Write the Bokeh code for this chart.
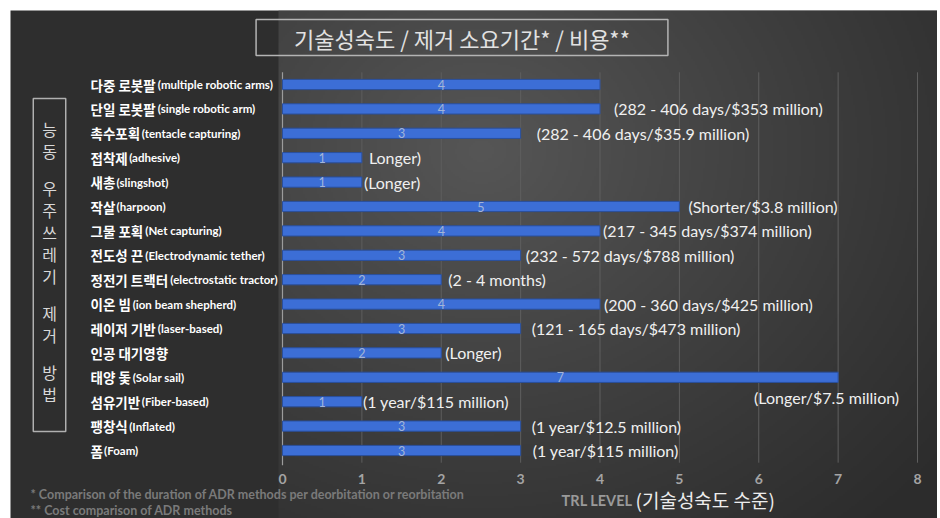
import numpy as np
from bokeh.plotting import figure
from bokeh.models import ColumnDataSource, Label, LabelSet, Range1d
from bokeh.core.properties import value
from bokeh.embed import file_html
from bokeh.resources import INLINE

# ---------------- data ----------------
methods_ko = ["다중 로봇팔", "단일 로봇팔", "촉수포획", "접착제", "새총", "작살", "그물 포획",
              "전도성 끈", "정전기 트랙터", "이온 빔", "레이저 기반", "인공 대기영향",
              "태양 돛", "섬유기반", "팽창식", "폼"]
methods_en = ["(multiple robotic arms)", "(single robotic arm)", "(tentacle capturing)",
              "(adhesive)", "(slingshot)", "(harpoon)", "(Net capturing)",
              "(Electrodynamic tether)", "(electrostatic tractor)", "(ion beam shepherd)",
              "(laser-based)", "", "(Solar sail)", "(Fiber-based)", "(Inflated)", "(Foam)"]
trl_level = [4, 4, 3, 1, 1, 5, 4, 3, 2, 4, 3, 2, 7, 1, 3, 3]
notes = ["", "(282 - 406 days/$353 million)", "(282 - 406 days/$35.9 million)", "Longer)",
         "(Longer)", "(Shorter/$3.8 million)", "(217 - 345 days/$374 million)",
         "(232 - 572 days/$788 million)", "(2 - 4 months)", "(200 - 360 days/$425 million)",
         "(121 - 165 days/$473 million)", "(Longer)", "(Longer/$7.5 million)",
         "(1 year/$115 million)", "(1 year/$12.5 million)", "(1 year/$115 million)"]
x_ticks = [0, 1, 2, 3, 4, 5, 6, 7, 8]
title_text = "기술성숙도 / 제거 소요기간* / 비용**"
side_title = "능동 우주쓰레기 제거 방법"
x_label_en = "TRL LEVEL"
x_label_ko = "(기술성숙도 수준)"
footnotes = ["* Comparison of the duration of ADR methods per deorbitation or reorbitation",
             "** Cost comparison of ADR methods"]

# ---------------- layout / style (window pixels) ----------------
FIG_L, FIG_T, FIG_R, FIG_B = 10, 10, 937, 518
PANEL_L = 278
X0_PX, X8_PX = 282, 917
ROW0_PX, ROW_PX = 84, 24.4
note_dx = [0, 14, 16, 7, 2, 9, 3, 5, 7, 4, 11, 4, 0, 1, 11, 12]
KO_SIZE = 13.5
EN_SIZE = 11.5
NOTE_FONT = "16px"

ppu = (X8_PX - X0_PX) / (x_ticks[-1] - x_ticks[0])


def X(px):
    return (px - X0_PX) / ppu


def Y(py):
    return (ROW0_PX - py) / ROW_PX


n = len(methods_ko)
rows = [-float(i) for i in range(n)]


def ko_width(s, size):
    return sum(size * (0.26 if ch == " " else 0.93) for ch in s)


p = figure(width=FIG_R - FIG_L, height=FIG_B - FIG_T, output_backend="svg",
           toolbar_location=None,
           x_range=Range1d(X(FIG_L), X(FIG_R)), y_range=Range1d(Y(FIG_B), Y(FIG_T)),
           x_axis_location=None, y_axis_location=None,
           min_border_left=0, min_border_right=0, min_border_top=0, min_border_bottom=0,
           border_fill_color="#2e2e2e", background_fill_color="#2e2e2e",
           outline_line_color=None)
p.margin = (FIG_T, 0, 0, FIG_L)
p.xgrid.visible = False
p.ygrid.visible = False

# background gradient of the chart panel
GW, GH = 330, 254
gx, gy = np.meshgrid(np.linspace(PANEL_L, FIG_R, GW), np.linspace(FIG_B, FIG_T, GH))
d = np.sqrt((gx - 480.0) ** 2 + ((gy - 150.0) / 0.85) ** 2)
t = np.clip(1 - d / 600.0, 0, 1)
c = (44 + (86 - 44) * t ** 1.1).astype(np.uint32)
img = (np.uint32(255) << np.uint32(24)) | (c << np.uint32(16)) | (c << np.uint32(8)) | c
p.image_rgba(image=[img], x=X(PANEL_L), y=Y(FIG_B),
             dw=X(FIG_R) - X(PANEL_L), dh=Y(FIG_T) - Y(FIG_B))

# grid lines
grid_top, grid_bot = 0.5, -(n - 1) - 0.5
p.segment(x0=x_ticks[1:], y0=grid_bot, x1=x_ticks[1:], y1=grid_top,
          line_color="#5e5e5e", line_width=1)
p.segment(x0=x_ticks[:1], y0=grid_bot - 0.1, x1=x_ticks[:1], y1=grid_top,
          line_color="#9c9c9c", line_width=1.2)

# x tick labels (drawn on the x scale)
p.text(x=x_ticks, y=[Y(478)] * len(x_ticks), text=[str(v) for v in x_ticks],
       text_align="center", text_baseline="middle", text_color="#a4a4a4",
       text_font=value("Lato"), text_font_style="bold", text_font_size="14px")

src = ColumnDataSource(dict(
    y=rows, trl=trl_level, mid=[v / 2 for v in trl_level],
    trl_txt=[str(v) for v in trl_level],
    ko=methods_ko, en=methods_en,
    en_dx=[ko_width(s, KO_SIZE) + 1 for s in methods_ko],
    note=[s if i != 12 else "" for i, s in enumerate(notes)],
    dx=note_dx,
))

# bars
p.hbar(y='y', left=0, right='trl', height=0.42, source=src,
       fill_color="#3c6ed6", line_color="#2a4f9c", line_width=1)

p.add_layout(LabelSet(x='mid', y='y', text='trl_txt', source=src, text_align='center',
                      text_baseline='middle', text_color='#a3b5d8', text_font=value('Lato'),
                      text_font_size='12.5px'))

p.add_layout(LabelSet(x='trl', y='y', text='note', x_offset='dx', source=src,
                      text_align='left', text_baseline='middle', text_color='#f0f0f0',
                      text_font=value('Lato'), text_font_size=NOTE_FONT))

# solar sail note placed under its bar
p.add_layout(Label(x=trl_level[12], y=rows[12] - 20 / ROW_PX, x_offset=61, text=notes[12],
                   text_align='right', text_baseline='middle', text_color='#f0f0f0',
                   text_font='Lato', text_font_size=NOTE_FONT))

# row labels
p.add_layout(LabelSet(x=X(90), y='y', text='ko', source=src, text_align='left',
                      text_baseline='middle', text_color='#ffffff',
                      text_font=value('Noto Sans CJK KR'), text_font_style='bold',
                      text_font_size=f'{KO_SIZE}px'))
p.add_layout(LabelSet(x=X(90), y='y', text='en', x_offset='en_dx', source=src,
                      text_align='left', text_baseline='middle', text_color='#ffffff',
                      text_font=value('Lato'), text_font_style='bold',
                      text_font_size=f'{EN_SIZE}px'))

# x axis title
p.add_layout(Label(x=X(632), y=Y(500), text=x_label_en, text_align='right',
                   text_baseline='middle', text_color='#9a9a9a', text_font='Lato',
                   text_font_style='bold', text_font_size='14.5px'))
p.add_layout(Label(x=X(635), y=Y(499), text=x_label_ko, text_align='left',
                   text_baseline='middle', text_color='#ececec',
                   text_font='Noto Sans CJK KR', text_font_size='19px'))

# title box  (padding: left, right, top, bottom)
p.add_layout(Label(x=X(461.5), y=Y(37), text=title_text, text_align='center',
                   text_baseline='middle', text_color='#e2e2e2',
                   text_font='Noto Sans CJK KR', text_font_size='22px',
                   border_line_color='#b4b4b4', border_line_width=1.5,
                   padding=(38, 38, 2, 2)))

# side vertical title
sy = 128.0
for ch in side_title:
    if ch == " ":
        sy += 15
        continue
    p.add_layout(Label(x=X(49), y=Y(sy), text=ch, text_align='center', text_baseline='middle',
                       text_color='#d8d8d8', text_font='Noto Sans CJK KR',
                       text_font_size='16px'))
    sy += 22
p.add_layout(Label(x=X(49), y=Y(264.5), text=" ", text_align='center', text_baseline='middle',
                   text_font_size='16px', border_line_color='#b0b0b0', border_line_width=1.5,
                   padding=(14, 14, 158, 158)))

# footnotes
for i, fn in enumerate(footnotes):
    p.add_layout(Label(x=X(30), y=Y(494 + 16 * i), text=fn, text_align='left',
                       text_baseline='middle', text_color='#7a7a7a', text_font='Lato',
                       text_font_style='bold', text_font_size='12.5px'))

open("out.html", "w").write(file_html(p, INLINE))
